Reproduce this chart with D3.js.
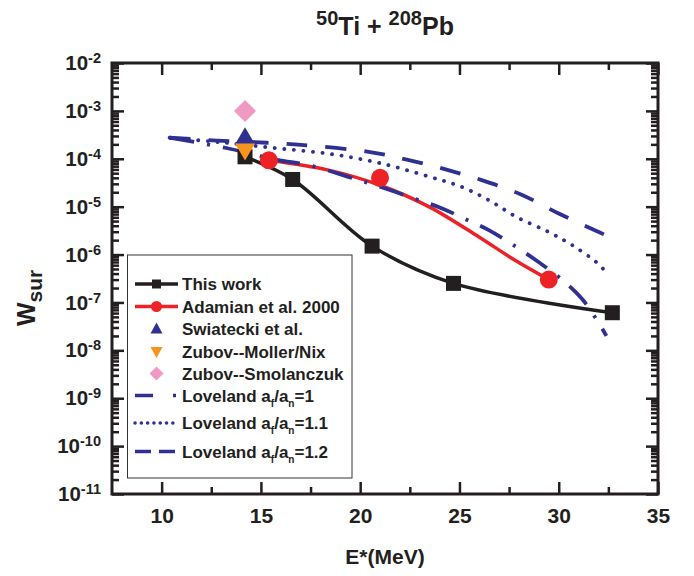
<!DOCTYPE html>
<html>
<head>
<meta charset="utf-8">
<script src="https://cdn.jsdelivr.net/npm/d3@7"></script>
<style>
  body { margin: 0; background: #fff; }
  svg { display: block; font-family: Arial, "Liberation Sans", sans-serif; font-weight: bold; }
</style>
</head>
<body>
<svg id="chart" width="694" height="576"></svg>
<script>
// --- data ---
const thisWorkE = [14.2, 16.6, 20.6, 24.7, 32.7];
const thisWorkW = [1.1e-4, 3.7e-5, 1.5e-6, 2.5e-7, 6.1e-8];

const adamianE = [15.4, 21.0, 29.5];
const adamianW = [9.3e-5, 4.0e-5, 3.0e-7];
const adamianFitE = [15.4, 18.4, 21.0, 23.5, 26.0, 27.8, 29.5];
const adamianFitW = [9.3e-5, 5.8e-5, 2.8e-5, 9.8e-6, 2.3e-6, 7.6e-7, 3.0e-7];

const swiatE = [14.2];
const swiatW = [2.8e-4];
const zubovMNE = [14.2];
const zubovMNW = [1.5e-4];
const smolE = [14.2];
const smolW = [1.0e-3];

const love1E = [10.4, 13.2, 15.8, 17.4, 19.4, 21.0, 22.9, 24.1, 25.3, 26.5, 27.8, 29.0, 30.2, 31.2, 32.0, 32.4];
const love1W = [2.75e-4, 1.7e-4, 9.5e-5, 7.4e-5, 4.2e-5, 2.6e-5, 1.4e-5, 9.3e-6, 5.5e-6, 3.2e-6, 1.5e-6, 6.9e-7, 2.9e-7, 1.15e-7, 3.8e-8, 2.0e-8];
const love11E = [10.4, 13.0, 15.8, 18.5, 21.0, 23.5, 25.1, 26.5, 27.9, 29.5, 30.7, 31.9, 32.3];
const love11W = [2.75e-4, 2.2e-4, 1.66e-4, 1.26e-4, 8.1e-5, 4.2e-5, 2.6e-5, 1.35e-5, 6.0e-6, 2.95e-6, 1.55e-6, 6.9e-7, 4.7e-7];
const love12E = [10.4, 12.8, 16.7, 20.5, 22.4, 24.3, 26.2, 28.1, 30.0, 31.9, 32.4];
const love12W = [2.75e-4, 2.4e-4, 2.0e-4, 1.38e-4, 9.5e-5, 6.0e-5, 3.5e-5, 1.8e-5, 7.2e-6, 3.1e-6, 2.5e-6];

const xMajor = [10, 15, 20, 25, 30, 35];
const xMinor = [12.5, 17.5, 22.5, 27.5, 32.5];
const yMajor = [1e-11, 1e-10, 1e-9, 1e-8, 1e-7, 1e-6, 1e-5, 1e-4, 1e-3, 1e-2];

const legendLabels = ["This work", "Adamian et al. 2000", "Swiatecki et al.", "Zubov--Moller/Nix",
  "Zubov--Smolanczuk", "Loveland a_f/a_n=1", "Loveland a_f/a_n=1.1", "Loveland a_f/a_n=1.2"];

// --- colours ---
const BLACK = "#231f20", RED = "#ec2227", BLUE = "#2e3192", ORANGE = "#f7941e", PINK = "#f09ac3";

const svg = d3.select("#chart");
const L = 112, R = 658, T = 63, B = 494;

const x = d3.scaleLinear().domain([7.5, 35]).range([L, R]);
const y = d3.scaleLog().domain([1e-11, 1e-2]).range([B, T]);

const yMinor = [];
for (let e = -11; e < -2; e++) for (let m = 2; m <= 9; m++) yMinor.push(m * Math.pow(10, e));

// axes (ticks point inward)
function styleAxis(g) {
    g.select(".domain").remove();
    g.selectAll(".tick line").attr("stroke", BLACK).attr("stroke-width", 2.5);
    g.selectAll("text").attr("fill", BLACK);
}

svg.append("g").attr("transform", `translate(0,${B})`)
    .call(d3.axisBottom(x).tickValues(xMajor).tickSizeInner(-12).tickSizeOuter(0).tickPadding(14))
    .call(styleAxis)
    .selectAll("text").style("font-size", "21px");
svg.append("g").attr("transform", `translate(0,${B})`)
    .call(d3.axisBottom(x).tickValues(xMinor).tickSizeInner(-7).tickSizeOuter(0).tickFormat(""))
    .call(styleAxis);
svg.append("g").attr("transform", `translate(0,${T})`)
    .call(d3.axisTop(x).tickValues(xMajor).tickSizeInner(-12).tickSizeOuter(0).tickFormat(""))
    .call(styleAxis);
svg.append("g").attr("transform", `translate(0,${T})`)
    .call(d3.axisTop(x).tickValues(xMinor).tickSizeInner(-7).tickSizeOuter(0).tickFormat(""))
    .call(styleAxis);

const yl = svg.append("g").attr("transform", `translate(${L},0)`)
    .call(d3.axisLeft(y).tickValues(yMajor).tickSizeInner(-12).tickSizeOuter(0).tickPadding(11).tickFormat(() => ""))
    .call(styleAxis);
yl.selectAll(".tick text").style("font-size", "20.5px").each(function (d) {
    const t = d3.select(this);
    t.append("tspan").text("10");
    t.append("tspan").attr("dy", -7).style("font-size", "14.5px").text(Math.round(Math.log10(d)));
});
svg.append("g").attr("transform", `translate(${L},0)`)
    .call(d3.axisLeft(y).tickValues(yMinor).tickSizeInner(-7).tickSizeOuter(0).tickFormat(""))
    .call(styleAxis);
svg.append("g").attr("transform", `translate(${R},0)`)
    .call(d3.axisRight(y).tickValues(yMajor).tickSizeInner(-12).tickSizeOuter(0).tickFormat(""))
    .call(styleAxis);
svg.append("g").attr("transform", `translate(${R},0)`)
    .call(d3.axisRight(y).tickValues(yMinor).tickSizeInner(-7).tickSizeOuter(0).tickFormat(""))
    .call(styleAxis);

svg.append("rect")
    .attr("x", L).attr("y", T).attr("width", R - L).attr("height", B - T)
    .attr("fill", "none").attr("stroke", BLACK).attr("stroke-width", 3);

// lines
const line = d3.line().x(d => x(d[0])).y(d => y(d[1])).curve(d3.curveCatmullRom.alpha(0.5));
const zip = (a, b) => a.map((v, i) => [v, b[i]]);

const plot = svg.append("g");
plot.append("path").datum(zip(thisWorkE, thisWorkW)).attr("d", line)
    .attr("fill", "none").attr("stroke", BLACK).attr("stroke-width", 3.5);
plot.append("path").datum(zip(adamianFitE, adamianFitW)).attr("d", line)
    .attr("fill", "none").attr("stroke", RED).attr("stroke-width", 3.5);

const loveStyles = [
    { e: love1E, w: love1W, dash: "25,13,3,13" },
    { e: love11E, w: love11W, dash: "0.1,9.5", cap: "round" },
    { e: love12E, w: love12W, dash: "21,18" }
];
loveStyles.forEach(s => {
    plot.append("path").datum(zip(s.e, s.w)).attr("d", line)
        .attr("fill", "none").attr("stroke", BLUE).attr("stroke-width", 3.8)
        .attr("stroke-dasharray", s.dash).attr("stroke-linecap", s.cap || "butt");
});

// markers
const tri = (w, h) => `M0,${-h * 0.6}L${w / 2},${h * 0.4}L${-w / 2},${h * 0.4}Z`;
const triDown = (w, h) => `M0,${h * 0.6}L${w / 2},${-h * 0.4}L${-w / 2},${-h * 0.4}Z`;
const diamond = s => `M0,${-s / 2}L${s / 2},0L0,${s / 2}L${-s / 2},0Z`;

plot.selectAll(".sq").data(zip(thisWorkE, thisWorkW)).join("rect").attr("class", "sq")
    .attr("x", d => x(d[0]) - 7.5).attr("y", d => y(d[1]) - 7.5)
    .attr("width", 15).attr("height", 15).attr("fill", BLACK);
plot.selectAll(".ci").data(zip(adamianE, adamianW)).join("circle").attr("class", "ci")
    .attr("cx", d => x(d[0])).attr("cy", d => y(d[1])).attr("r", 9).attr("fill", RED);
plot.selectAll(".tu").data(zip(swiatE, swiatW)).join("path").attr("class", "tu")
    .attr("transform", d => `translate(${x(d[0])},${y(d[1])})`).attr("d", tri(20, 17)).attr("fill", BLUE);
plot.selectAll(".td").data(zip(zubovMNE, zubovMNW)).join("path").attr("class", "td")
    .attr("transform", d => `translate(${x(d[0])},${y(d[1])})`).attr("d", triDown(20, 17)).attr("fill", ORANGE);
plot.selectAll(".di").data(zip(smolE, smolW)).join("path").attr("class", "di")
    .attr("transform", d => `translate(${x(d[0])},${y(d[1])})`).attr("d", diamond(22)).attr("fill", PINK);

// legend
const lg = svg.append("g");
lg.append("rect").attr("x", 127.5).attr("y", 255).attr("width", 224.5).attr("height", 223)
    .attr("fill", "#fff").attr("stroke", "#333").attr("stroke-width", 1);
const rowsY = [284, 306.5, 329, 351.5, 373.5, 395.5, 423, 451.5];
const sx0 = 135, sx1 = 178, smid = 156.5;

lg.selectAll("text.lab").data(legendLabels).join("text").attr("class", "lab")
    .attr("x", 182).attr("y", (d, i) => rowsY[i] + 6)
    .style("font-size", "17px").attr("fill", BLACK)
    .each(function (d) {
        const t = d3.select(this);
        const parts = d.split(/(_[a-z])/);
        let sub = false;
        parts.forEach(p => {
            if (!p) return;
            if (p[0] === "_") {
                t.append("tspan").attr("dy", 5).style("font-size", "10px").text(p.slice(1));
                sub = true;
            } else {
                t.append("tspan").attr("dy", sub ? -5 : 0).text(p);
                sub = false;
            }
        });
    });

const sample = (i, color, dash, cap) => lg.append("line")
    .attr("x1", sx0).attr("x2", sx1).attr("y1", rowsY[i]).attr("y2", rowsY[i])
    .attr("stroke", color).attr("stroke-width", 3.5)
    .attr("stroke-dasharray", dash || null).attr("stroke-linecap", cap || "butt");
sample(0, BLACK);
lg.append("rect").attr("x", smid - 4.5).attr("y", rowsY[0] - 4.5).attr("width", 9).attr("height", 9).attr("fill", BLACK);
sample(1, RED);
lg.append("circle").attr("cx", smid).attr("cy", rowsY[1]).attr("r", 5.5).attr("fill", RED);
lg.append("path").attr("transform", `translate(${smid},${rowsY[2]})`).attr("d", tri(12, 11)).attr("fill", BLUE);
lg.append("path").attr("transform", `translate(${smid},${rowsY[3]})`).attr("d", triDown(12, 11)).attr("fill", ORANGE);
lg.append("path").attr("transform", `translate(${smid},${rowsY[4]})`).attr("d", diamond(14)).attr("fill", PINK);
sample(5, BLUE, "18,20,3,10");
sample(6, BLUE, "0.1,6.2", "round");
sample(7, BLUE, "16,8");

// titles
const title = svg.append("text").attr("x", 385).attr("y", 35).attr("text-anchor", "middle")
    .attr("fill", BLACK).style("font-size", "25px");
title.append("tspan").attr("dy", -10).style("font-size", "20px").text("50");
title.append("tspan").attr("dy", 10).text("Ti + ");
title.append("tspan").attr("dy", -10).style("font-size", "20px").text("208");
title.append("tspan").attr("dy", 10).text("Pb");

svg.append("text").attr("x", 385).attr("y", 564).attr("text-anchor", "middle")
    .attr("fill", BLACK).style("font-size", "21px").text("E*(MeV)");

const yt = svg.append("text").attr("transform", "translate(35,326) rotate(-90)")
    .attr("fill", BLACK).style("font-size", "25px");
yt.append("tspan").text("W");
yt.append("tspan").attr("dy", 7).style("font-size", "21px").text("sur");
</script>
</body>
</html>
